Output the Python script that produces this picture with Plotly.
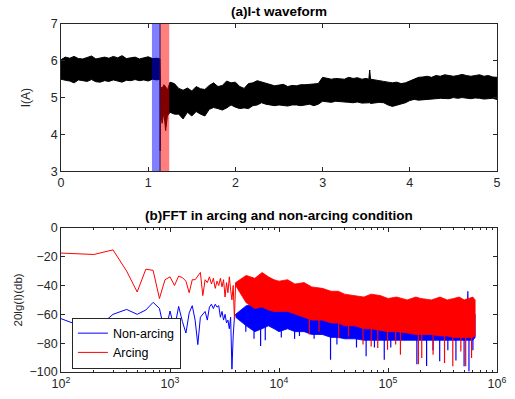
import plotly.graph_objects as go

# ---------------- (a) I-t waveform: envelope ----------------
t_env = [0, 0.05, 0.1, 0.15, 0.2, 0.25, 0.3, 0.35, 0.4, 0.45, 0.5, 0.55, 0.6, 0.65, 0.7, 0.75,
         0.8, 0.85, 0.9, 0.95, 1.0, 1.05, 1.1, 1.135, 1.138, 1.141, 1.16, 1.18, 1.2, 1.22, 1.25,
         1.3, 1.35, 1.4, 1.45, 1.5, 1.55, 1.6, 1.65, 1.7, 1.75, 1.8, 1.85, 1.9, 1.95, 2.0, 2.05,
         2.1, 2.15, 2.2, 2.25, 2.3, 2.35, 2.4, 2.45, 2.5, 2.55, 2.6, 2.65, 2.7, 2.75, 2.8, 2.85,
         2.9, 2.95, 3.0, 3.05, 3.1, 3.15, 3.2, 3.25, 3.3, 3.35, 3.4, 3.45, 3.5, 3.53, 3.54, 3.55,
         3.6, 3.65, 3.7, 3.75, 3.8, 3.85, 3.9, 3.95, 4.0, 4.05, 4.1, 4.15, 4.2, 4.25, 4.3, 4.35,
         4.4, 4.45, 4.5, 4.55, 4.6, 4.65, 4.7, 4.75, 4.8, 4.85, 4.9, 4.95, 5.0]
i_top = [6.03, 6.10, 6.07, 6.12, 6.06, 6.05, 6.09, 6.13, 6.05, 6.08, 6.10, 6.07, 6.12, 6.08, 6.14, 6.06,
         6.09, 6.10, 6.05, 6.08, 6.11, 6.06, 6.07, 6.05, 5.60, 5.30, 5.25, 5.35, 5.30, 5.20, 5.42,
         5.38, 5.25, 5.20, 5.26, 5.18, 5.30, 5.24, 5.22, 5.33, 5.40, 5.30, 5.33, 5.45, 5.40, 5.42, 5.30,
         5.25, 5.38, 5.40, 5.46, 5.42, 5.40, 5.35, 5.32, 5.34, 5.36, 5.30, 5.33, 5.32, 5.35, 5.35, 5.36,
         5.35, 5.38, 5.55, 5.52, 5.50, 5.52, 5.50, 5.50, 5.55, 5.52, 5.54, 5.50, 5.52, 5.50, 5.75, 5.50,
         5.48, 5.45, 5.44, 5.42, 5.40, 5.42, 5.38, 5.40, 5.45, 5.52, 5.55, 5.56, 5.58, 5.55, 5.60, 5.58,
         5.62, 5.60, 5.58, 5.60, 5.63, 5.60, 5.58, 5.60, 5.62, 5.58, 5.60, 5.56, 5.55]
i_bot = [5.50, 5.47, 5.45, 5.40, 5.48, 5.46, 5.44, 5.49, 5.43, 5.42, 5.46, 5.44, 5.48, 5.45, 5.42, 5.47,
         5.46, 5.49, 5.46, 5.48, 5.45, 5.50, 5.48, 5.50, 3.55, 4.60, 4.30, 4.60, 4.10, 4.50, 4.60,
         4.55, 4.55, 4.42, 4.60, 4.50, 4.62, 4.55, 4.50, 4.68, 4.73, 4.70, 4.66, 4.72, 4.80, 4.74, 4.70,
         4.72, 4.70, 4.78, 4.80, 4.86, 4.82, 4.79, 4.78, 4.80, 4.78, 4.77, 4.80, 4.80, 4.78, 4.80, 4.82,
         4.78, 4.82, 4.90, 4.88, 4.87, 4.90, 4.90, 4.88, 4.87, 4.86, 4.88, 4.85, 4.86, 4.86, 4.86, 4.84,
         4.85, 4.87, 4.86, 4.80, 4.76, 4.80, 4.82, 4.86, 4.92, 4.95, 4.93, 4.94, 4.96, 4.96, 4.97, 4.98,
         4.98, 4.97, 5.00, 4.98, 5.00, 4.98, 4.97, 4.99, 4.98, 4.96, 4.97, 4.98, 4.95]

non_arc_window = [1.043, 1.136]
arc_window = [1.136, 1.241]

# ---------------- (b) FFT ----------------
f_low = [100, 200, 300, 400, 500, 600, 700, 800, 900, 1000, 1100, 1200, 1300, 1400, 1500, 1600,
         1700, 1800, 1900, 2000, 2100, 2200, 2300, 2400, 2500, 2600, 2700, 2800, 2900, 3000,
         3100, 3200, 3300, 3400, 3500, 3600, 3700, 3800, 3900, 4000]
arc_low = [-17.5, -18.5, -15.3, -30, -44.5, -28.7, -29.5, -49, -36, -34, -40, -33.5, -34.5, -37, -45, -36,
           -36, -33, -31, -47, -36, -38, -34, -39, -35, -42, -37, -40, -35, -41,
           -36, -48, -38, -45, -34, -43, -50, -40, -63, -38]
non_arc_low = [-63, -71.5, -60, -56.6, -60, -57, -51.7, -55.9, -74, -57.7, -70, -54.5, -65, -73, -59, -54,
               -64, -81, -62, -60, -58, -64, -55, -53, -56, -53, -55, -54, -62, -58,
               -64, -60, -66, -64, -70, -62, -98, -75, -62, -60]

# dense part (above ~4 kHz): solid core envelopes
f_env = [4000, 5000, 6000, 7000, 8000, 9000, 10000, 12000, 14000, 17000, 20000, 25000, 30000, 35000,
         40000, 50000, 60000, 70000, 85000, 100000, 120000, 150000, 180000, 200000, 250000, 300000,
         350000, 400000, 450000, 500000, 530000, 540000, 550000, 600000, 630000]
arc_top = [-38, -33, -35, -31, -34, -36, -37, -36, -39, -38, -41, -42, -44, -44,
           -46, -47, -48, -46, -47, -49, -48, -50, -48, -49, -50, -48,
           -50, -49, -48, -50, -49, -49, -49, -48, -50]
arc_core_bot = [-40, -52, -56, -55, -57, -58, -58, -58, -60, -62, -64, -64, -66, -66,
                -68, -68, -70, -70, -71, -72, -72, -73, -74, -74, -74, -75,
                -75, -76, -76, -76, -76, -76, -76, -76, -75]
non_arc_top = [-60, -54, -53, -55, -52, -54, -55, -53, -56, -55, -54, -57, -57, -60,
               -58, -60, -62, -62, -62, -62, -63, -63, -64, -64, -64, -64,
               -64, -63, -62, -60, -62, -44, -62, -62, -60]
non_arc_core_bot = [-62, -68, -72, -70, -68, -70, -72, -70, -72, -72, -74, -74, -76, -76,
                    -77, -77, -78, -78, -78, -78, -78, -78, -78, -78, -78, -78,
                    -78, -78, -78, -78, -78, -78, -78, -78, -76]

# deepest downward spikes seen in the dense part (frequency, dB)
non_arc_spike_f = [4960, 5900, 6780, 7480, 10500, 11700, 13900, 15400, 21000, 25000, 29700, 34000,
                   40500, 51400, 63000, 75100, 92400, 106000, 150000, 184000, 226000, 259000,
                   298000, 354000, 420000, 499000, 553000, 601000]
non_arc_spike_db = [-72, -77, -82, -78, -76, -68, -77, -75, -77, -74, -91.5, -81,
                    -77, -83, -89, -83, -91.5, -83, -76, -94.7, -95.8, -85,
                    -92.6, -85, -92, -96, -99.5, -85]
arc_spike_f = [19000, 23300, 35200, 43400, 59000, 70100, 80500, 99000, 117600, 130000, 190000,
               204000, 259000, 330000, 393000, 466000, 516000, 584000]
arc_spike_db = [-74, -72, -76.6, -75.4, -81, -82.3, -83.4, -84.6, -81, -88, -94.7,
                -90.3, -88, -93.8, -96, -85.7, -96, -90.3]
spike_root = -60

fft_xticks = [100, 1000, 10000, 100000, 1000000]
fft_xticktext = ["10<sup>2</sup>", "10<sup>3</sup>", "10<sup>4</sup>", "10<sup>5</sup>", "10<sup>6</sup>"]
fft_minor = [m * d for d in (100, 1000, 10000, 100000) for m in range(2, 10)]

BLUE = "rgb(0,0,255)"
RED = "rgb(255,0,0)"
AX = "#262626"
FONT = "Liberation Sans, Arial, sans-serif"


def spikes(fs, vals, root):
    xs, ys = [], []
    for f, v in zip(fs, vals):
        xs += [f, f, None]
        ys += [root, v, None]
    return xs, ys


fig = go.Figure()

# waveform band
fig.add_trace(go.Scatter(x=t_env + t_env[::-1], y=i_top + i_bot[::-1], fill="toself",
                         fillcolor="black", mode="lines", line=dict(color="black", width=1),
                         showlegend=False, hoverinfo="skip", xaxis="x", yaxis="y"))

# FFT - non-arcing
fig.add_trace(go.Scatter(x=f_low, y=non_arc_low, mode="lines", line=dict(color=BLUE, width=1),
                         name="Non-arcing", xaxis="x2", yaxis="y2"))
fig.add_trace(go.Scatter(x=f_env + f_env[::-1], y=non_arc_top + non_arc_core_bot[::-1], fill="toself",
                         fillcolor=BLUE, mode="lines", line=dict(color=BLUE, width=0.8),
                         showlegend=False, hoverinfo="skip", xaxis="x2", yaxis="y2"))
bx, by = spikes(non_arc_spike_f, non_arc_spike_db, spike_root)
fig.add_trace(go.Scatter(x=bx, y=by, mode="lines", line=dict(color=BLUE, width=1.2),
                         showlegend=False, hoverinfo="skip", xaxis="x2", yaxis="y2"))
# FFT - arcing
fig.add_trace(go.Scatter(x=f_low, y=arc_low, mode="lines", line=dict(color=RED, width=1),
                         name="Arcing", xaxis="x2", yaxis="y2"))
fig.add_trace(go.Scatter(x=f_env + f_env[::-1], y=arc_top + arc_core_bot[::-1], fill="toself",
                         fillcolor=RED, mode="lines", line=dict(color=RED, width=0.8),
                         showlegend=False, hoverinfo="skip", xaxis="x2", yaxis="y2"))
rx, ry = spikes(arc_spike_f, arc_spike_db, spike_root)
fig.add_trace(go.Scatter(x=rx, y=ry, mode="lines", line=dict(color=RED, width=1.2),
                         showlegend=False, hoverinfo="skip", xaxis="x2", yaxis="y2"))

shapes = [
    dict(type="rect", xref="x", yref="y", x0=non_arc_window[0], x1=non_arc_window[1], y0=3, y1=7,
         fillcolor="rgba(0,0,255,0.5)", line=dict(width=0), layer="above"),
    dict(type="rect", xref="x", yref="y", x0=arc_window[0], x1=arc_window[1], y0=3, y1=7,
         fillcolor="rgba(255,0,0,0.5)", line=dict(width=0), layer="above"),
    dict(type="line", xref="x", yref="y", x0=arc_window[0], x1=arc_window[0], y0=3, y1=7,
         line=dict(color="rgb(50,20,60)", width=1), layer="above"),
]

axis_common = dict(showline=True, linecolor=AX, linewidth=0.8, mirror="ticks", ticks="inside",
                   ticklen=4, tickcolor=AX, showgrid=False, zeroline=False,
                   tickfont=dict(family=FONT, size=12.5, color=AX))

fig.update_layout(
    width=515, height=399,
    margin=dict(l=61, r=8, t=24, b=25),
    paper_bgcolor="white", plot_bgcolor="white",
    font=dict(family=FONT, color=AX),
    xaxis=dict(domain=[0, 1], range=[0, 5], anchor="y", dtick=1, **axis_common),
    yaxis=dict(domain=[0.5771, 1], range=[3, 7], anchor="x", dtick=1,
               title=dict(text="I(A)", font=dict(family=FONT, size=12, color=AX), standoff=17),
               **axis_common),
    xaxis2=dict(domain=[0, 1], type="log", range=[2, 6], anchor="y2",
                tickvals=fft_xticks, ticktext=fft_xticktext,
                minor=dict(ticks="inside", ticklen=2, tickcolor=AX, showgrid=False,
                           tickmode="array", tickvals=fft_minor),
                **axis_common),
    yaxis2=dict(domain=[0, 0.4143], range=[-100, 0], anchor="x2", dtick=20,
                title=dict(text="20lg(I)(db)", font=dict(family=FONT, size=11.5, color=AX), standoff=4),
                **axis_common),
    shapes=shapes,
    showlegend=True,
    legend=dict(x=0.025, y=0.01, xanchor="left", yanchor="bottom", bgcolor="white",
                bordercolor=AX, borderwidth=1, font=dict(family=FONT, size=12.5, color="black"),
                tracegroupgap=0, itemwidth=30),
    annotations=[
        dict(text="<b>(a)I-t waveform</b>", xref="paper", yref="paper", x=0.5, y=1.0,
             yshift=3, xanchor="center", yanchor="bottom", showarrow=False,
             font=dict(family=FONT, size=13.5, color="black")),
        dict(text="<b>(b)FFT in arcing and non-arcing condition</b>", xref="paper", yref="paper",
             x=0.5, y=0.4143, yshift=3, xanchor="center", yanchor="bottom", showarrow=False,
             font=dict(family=FONT, size=13.5, color="black")),
    ],
)

fig.write_html("out.html")
